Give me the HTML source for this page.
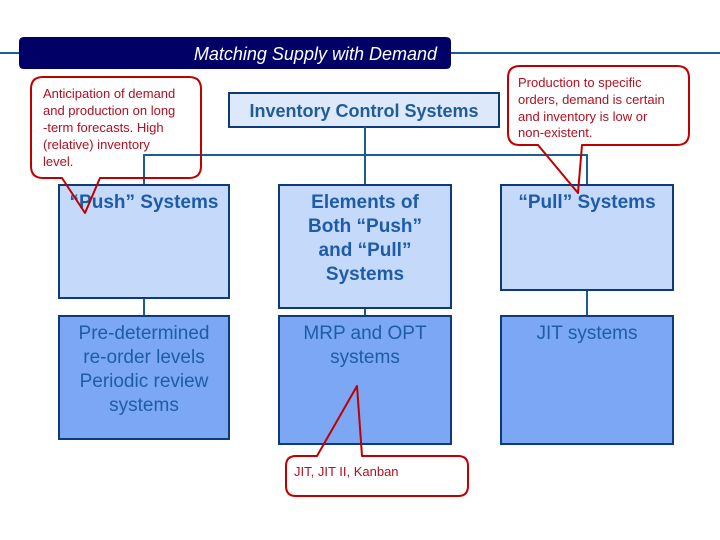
<!DOCTYPE html>
<html><head><style>body{margin:0;background:#fff}svg{display:block}</style></head><body>
<svg width="720" height="540" viewBox="0 0 720 540" xmlns="http://www.w3.org/2000/svg" font-family="Liberation Sans, Arial, sans-serif">
<rect width="720" height="540" fill="#fff"/>
<line x1="0" y1="53" x2="720" y2="53" stroke="#1a5f8f" stroke-width="2"/>
<path d="M24 37 H446 Q451 37 451 42 V64 Q451 69 446 69 H24 Q19 69 19 64 V42 Q19 37 24 37Z" fill="#000066"/>
<text x="437" y="60" text-anchor="end" fill="#fff" font-size="18" font-style="italic">Matching Supply with Demand</text>
<rect x="229" y="93" width="270" height="34" fill="#dde9fa" stroke="#0d3a7a" stroke-width="2"/>
<text x="364" y="117" text-anchor="middle" fill="#1f5c99" font-size="18" font-weight="bold">Inventory Control Systems</text>
<g stroke="#1a5f8f" stroke-width="2" fill="none">
<path d="M144 185 V155 H587 V185"/><path d="M365 127 V185"/>
<path d="M144 298 V316"/><path d="M365 308 V316"/><path d="M587 290 V316"/>
</g>
<g stroke="#0d3a7a" stroke-width="2">
<rect x="59" y="185" width="170" height="113" fill="#c5d9fb"/>
<rect x="279" y="185" width="172" height="123" fill="#c5d9fb"/>
<rect x="501" y="185" width="172" height="105" fill="#c5d9fb"/>
<rect x="59" y="316" width="170" height="123" fill="#7ba7f5"/>
<rect x="279" y="316" width="172" height="128" fill="#7ba7f5"/>
<rect x="501" y="316" width="172" height="128" fill="#7ba7f5"/>
</g>
<g fill="#1f5ca8" font-size="19" text-anchor="middle">
<text x="144" y="208" font-weight="bold">“Push” Systems</text>
<text x="365" y="208" font-weight="bold">Elements of</text>
<text x="365" y="232" font-weight="bold">Both “Push”</text>
<text x="365" y="256" font-weight="bold">and “Pull”</text>
<text x="365" y="280" font-weight="bold">Systems</text>
<text x="587" y="208" font-weight="bold">“Pull” Systems</text>
<text x="144" y="339">Pre-determined</text>
<text x="144" y="363">re-order levels</text>
<text x="144" y="387">Periodic review</text>
<text x="144" y="411">systems</text>
<text x="365" y="339">MRP and OPT</text>
<text x="365" y="363">systems</text>
<text x="587" y="339">JIT systems</text>
</g>
<g stroke="#c00000" stroke-width="2" fill="none" stroke-linejoin="round">
<path d="M43 77 H189 Q201 77 201 89 V166 Q201 178 189 178 H100 L85 213 L62 178 H43 Q31 178 31 166 V89 Q31 77 43 77Z"/>
<path d="M520 66 H677 Q689 66 689 78 V133 Q689 145 677 145 H582 L578 193 L538 145 H520 Q508 145 508 133 V78 Q508 66 520 66Z"/>
<path d="M296 456 H317 L357 386 L362 456 H458 Q468 456 468 466 V486 Q468 496 458 496 H296 Q286 496 286 486 V466 Q286 456 296 456Z"/>
</g>
<g fill="#b01020" font-size="13">
<text x="43" y="98">Anticipation of demand</text>
<text x="43" y="115">and production on long</text>
<text x="43" y="132">-term forecasts. High</text>
<text x="43" y="149">(relative) inventory</text>
<text x="43" y="166">level.</text>
<text x="518" y="87">Production to specific</text>
<text x="518" y="104">orders, demand is certain</text>
<text x="518" y="121">and inventory is low or</text>
<text x="518" y="137">non-existent.</text>
<text x="294" y="476">JIT, JIT II, Kanban</text>
</g>
</svg>
</body></html>
